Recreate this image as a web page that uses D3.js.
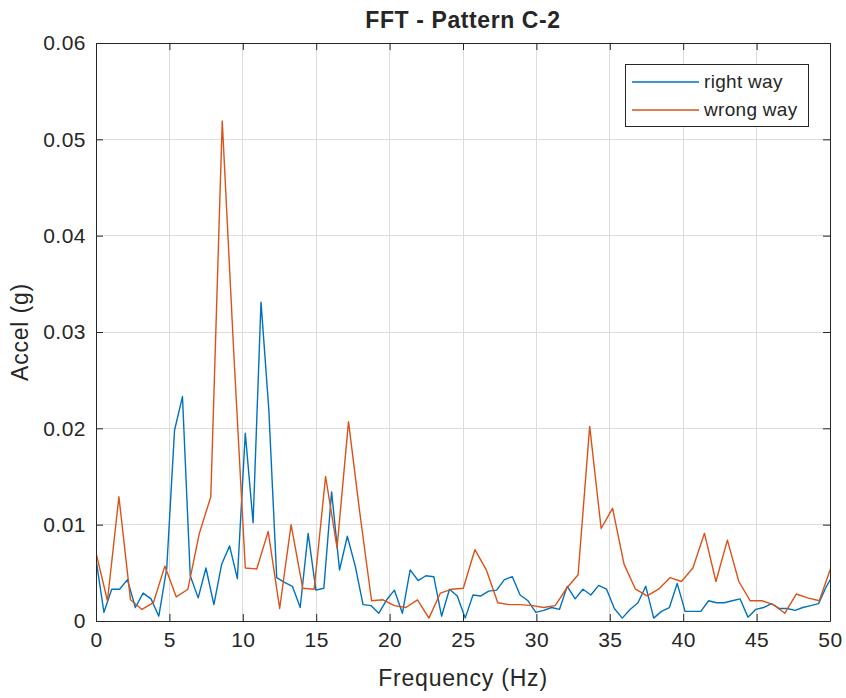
<!DOCTYPE html>
<html>
<head>
<meta charset="utf-8">
<script src="https://cdnjs.cloudflare.com/ajax/libs/d3/7.8.5/d3.min.js"></script>
<style>
	body { margin: 0; background: #fff; }
	svg text { font-family: "Liberation Sans", Arial, Helvetica, sans-serif; fill: #262626; }
</style>
</head>
<body>
<svg id="fft_svg" width="846" height="698"></svg>
<script>
// frequency bins (Hz) and amplitude (g)
var freqRight = [
	0, 0.54, 1.07, 1.61, 2.14, 2.68, 3.21, 3.75, 4.28, 4.82,
	5.35, 5.89, 6.42, 6.96, 7.49, 8.03, 8.56, 9.10, 9.63, 10.17,
	10.70, 11.24, 11.77, 12.31, 12.84, 13.38, 13.91, 14.45, 14.98, 15.52,
	16.05, 16.59, 17.12, 17.66, 18.19, 18.73, 19.26, 19.80, 20.33, 20.87,
	21.40, 21.94, 22.47, 23.01, 23.54, 24.08, 24.61, 25.15, 25.68, 26.22,
	26.75, 27.29, 27.82, 28.36, 28.89, 29.43, 29.96, 30.50, 31.03, 31.57,
	32.10, 32.64, 33.17, 33.71, 34.24, 34.78, 35.31, 35.85, 36.38, 36.92,
	37.45, 37.99, 38.52, 39.06, 39.59, 40.13, 40.66, 41.20, 41.73, 42.27,
	42.80, 43.34, 43.87, 44.41, 44.94, 45.48, 46.01, 46.55, 47.08, 47.62,
	48.15, 48.69, 49.22, 49.76, 50.29
];
var accelRight = [
	0.0064, 0.0009, 0.0033, 0.0033, 0.0043, 0.0014, 0.0029, 0.0023, 0.0005, 0.0055,
	0.0198, 0.0233, 0.0047, 0.0024, 0.0055, 0.0017, 0.0059, 0.0078, 0.0044, 0.0195,
	0.0102, 0.0331, 0.0220, 0.0045, 0.0040, 0.0036, 0.0014, 0.0091, 0.0032, 0.0034,
	0.0134, 0.0053, 0.0088, 0.0057, 0.0017, 0.0016, 0.0008, 0.0022, 0.0032, 0.0008,
	0.0053, 0.0042, 0.0047, 0.0046, 0.0005, 0.0033, 0.0026, 0.0003, 0.0027, 0.0026,
	0.0031, 0.0032, 0.0043, 0.0046, 0.0027, 0.0021, 0.0009, 0.0011, 0.0014, 0.0012,
	0.0036, 0.0023, 0.0033, 0.0027, 0.0037, 0.0033, 0.0013, 0.0003, 0.0012, 0.0019,
	0.0036, 0.0003, 0.0010, 0.0014, 0.0039, 0.0010, 0.0010, 0.0010, 0.0021, 0.0019,
	0.0019, 0.0021, 0.0023, 0.0004, 0.0012, 0.0014, 0.0018, 0.0013, 0.0013, 0.0011,
	0.0014, 0.0016, 0.0018, 0.0036, 0.0050
];
var freqWrong = [
	0, 0.78, 1.56, 2.35, 3.13, 3.91, 4.69, 5.47, 6.26, 7.04,
	7.82, 8.60, 9.38, 10.17, 10.95, 11.73, 12.51, 13.29, 14.08, 14.86,
	15.64, 16.42, 17.20, 17.99, 18.77, 19.55, 20.33, 21.11, 21.90, 22.68,
	23.46, 24.24, 25.02, 25.81, 26.59, 27.37, 28.15, 28.93, 29.72, 30.50,
	31.28, 32.06, 32.84, 33.63, 34.41, 35.19, 35.97, 36.75, 37.54, 38.32,
	39.10, 39.88, 40.66, 41.45, 42.23, 43.01, 43.79, 44.57, 45.36, 46.14,
	46.92, 47.70, 48.48, 49.27, 50.05
];
var accelWrong = [
	0.0071, 0.0021, 0.0129, 0.0022, 0.0012, 0.0019, 0.0057, 0.0025, 0.0033, 0.0091,
	0.0129, 0.0519, 0.0280, 0.0055, 0.0054, 0.0093, 0.0013, 0.0100, 0.0034, 0.0033,
	0.0150, 0.0076, 0.0207, 0.0110, 0.0021, 0.0022, 0.0016, 0.0014, 0.0022, 0.0003,
	0.0029, 0.0033, 0.0034, 0.0074, 0.0053, 0.0019, 0.0017, 0.0017, 0.0016, 0.0014,
	0.0016, 0.0034, 0.0048, 0.0202, 0.0096, 0.0117, 0.0059, 0.0033, 0.0026, 0.0033,
	0.0045, 0.0041, 0.0055, 0.0091, 0.0041, 0.0084, 0.0041, 0.0021, 0.0021, 0.0017,
	0.0008, 0.0028, 0.0024, 0.0021, 0.0055
];
var xTicks = [0, 5, 10, 15, 20, 25, 30, 35, 40, 45, 50];
var yTicks = [0, 0.01, 0.02, 0.03, 0.04, 0.05, 0.06];
var yTickLabels = ["0", "0.01", "0.02", "0.03", "0.04", "0.05", "0.06"];
var seriesNames = ["right way", "wrong way"];
var seriesColors = ["#0072bd", "#d95319"];

(function(){
	'use strict';

	makeChart();

	function makeChart(){
		var svg = d3.select("#fft_svg");

		var margin = {top: 43, right: 16, bottom: 77, left: 96},
			width = +svg.attr("width") - margin.left - margin.right,
			height = +svg.attr("height") - margin.top - margin.bottom,
			g = svg.append("g").attr("transform", "translate(" + margin.left + "," + margin.top + ")");

		var x = d3.scaleLinear().domain([0, 50]).range([0, width]);
		var y = d3.scaleLinear().domain([0, 0.06]).range([height, 0]);

		// grid
		g.append("g").attr("class", "grid")
			.selectAll("line.gx").data(xTicks.slice(1, -1)).enter().append("line")
			.attr("x1", function(d){ return x(d); }).attr("x2", function(d){ return x(d); })
			.attr("y1", 0).attr("y2", height);
		g.select(".grid")
			.selectAll("line.gy").data(yTicks.slice(1, -1)).enter().append("line")
			.attr("y1", function(d){ return y(d); }).attr("y2", function(d){ return y(d); })
			.attr("x1", 0).attr("x2", width);
		g.selectAll(".grid line").attr("stroke", "#dcdcdc").attr("stroke-width", 1).attr("shape-rendering", "crispEdges");

		// data lines
		svg.append("defs").append("clipPath").attr("id", "plotClip")
			.append("rect").attr("width", width).attr("height", height);

		var line = d3.line()
			.x(function(d){ return x(d[0]); })
			.y(function(d){ return y(d[1]); });

		var series = [
			d3.zip(freqRight, accelRight),
			d3.zip(freqWrong, accelWrong)
		];

		g.append("g").attr("clip-path", "url(#plotClip)")
			.selectAll("path").data(series).enter().append("path")
			.attr("d", line)
			.attr("fill", "none")
			.attr("stroke", function(d, i){ return seriesColors[i]; })
			.attr("stroke-width", 1.4)
			.attr("stroke-linejoin", "round");

		// axes, ticks pointing in
		var xAxis = g.append("g")
			.attr("class", "axis axis--x")
			.attr("transform", "translate(0," + height + ")")
			.call(d3.axisBottom(x).tickValues(xTicks).tickSizeInner(-7).tickSizeOuter(0).tickPadding(11));

		var yAxis = g.append("g")
			.attr("class", "axis axis--y")
			.call(d3.axisLeft(y).tickValues(yTicks).tickSizeInner(-7).tickSizeOuter(0).tickPadding(10)
				.tickFormat(function(d, i){ return yTickLabels[i]; }));

		g.append("g")
			.attr("class", "axis")
			.call(d3.axisTop(x).tickValues(xTicks).tickSizeInner(-7).tickSizeOuter(0).tickFormat(""));

		g.append("g")
			.attr("class", "axis")
			.attr("transform", "translate(" + width + ",0)")
			.call(d3.axisRight(y).tickValues(yTicks).tickSizeInner(-7).tickSizeOuter(0).tickFormat(""));

		g.selectAll(".axis path, .axis line").attr("stroke", "#262626").attr("stroke-width", 1);
		g.selectAll(".axis text").style("font-size", "21px").style("letter-spacing", "0.5px").attr("fill", "#262626");
		xAxis.selectAll("text").attr("dy", "0.71em");

		// title and labels
		svg.append("text")
			.attr("x", margin.left + width / 2)
			.attr("y", 28)
			.attr("text-anchor", "middle")
			.style("font-size", "23px")
			.style("letter-spacing", "0.6px")
			.style("font-weight", "bold")
			.text("FFT - Pattern C-2");

		svg.append("text")
			.attr("x", margin.left + width / 2)
			.attr("y", 686)
			.attr("text-anchor", "middle")
			.style("font-size", "23px")
			.style("letter-spacing", "0.8px")
			.text("Frequency (Hz)");

		svg.append("text")
			.attr("transform", "translate(28," + (margin.top + height / 2) + ") rotate(-90)")
			.attr("text-anchor", "middle")
			.style("font-size", "23px")
			.style("letter-spacing", "0.8px")
			.text("Accel (g)");

		// legend
		var legendCont = svg.append("g").attr("transform", "translate(625,64)");

		legendCont.append("rect")
			.attr("width", 183).attr("height", 62)
			.attr("fill", "#fff").attr("stroke", "#262626").attr("stroke-width", 1)
			.attr("shape-rendering", "crispEdges");

		var legend = legendCont.selectAll(".leg")
			.data(seriesNames)
			.enter().append("g")
			.attr("class", "leg")
			.attr("transform", function(d, i){ return "translate(0," + (18 + i * 28) + ")"; });

		legend.append("line")
			.attr("x1", 7).attr("x2", 74)
			.attr("stroke", function(d, i){ return seriesColors[i]; })
			.attr("stroke-width", 1.4);

		legend.append("text")
			.attr("x", 79)
			.attr("y", 6)
			.style("font-size", "19px")
			.style("letter-spacing", "0.3px")
			.text(function(d){ return d; });
	}

})();
</script>
</body>
</html>
